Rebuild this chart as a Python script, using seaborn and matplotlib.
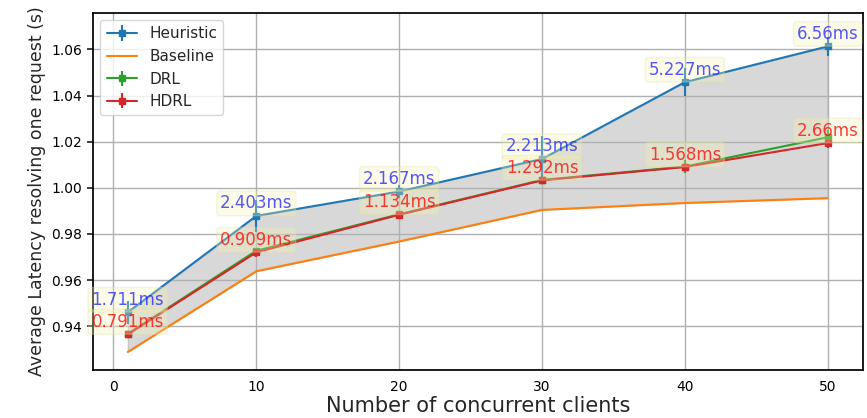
import numpy as np
import pandas as pd
import matplotlib
matplotlib.use("Agg")
import matplotlib.pyplot as plt
import seaborn as sns

# data
clients = [1, 10, 20, 30, 40, 50]
heuristic = [0.9460, 0.9878, 0.9984, 1.0125, 1.0458, 1.0613]
heuristic_err = [0.005, 0.007, 0.003, 0.010, 0.006, 0.004]
baseline = [0.9288, 0.9638, 0.9767, 0.9904, 0.9934, 0.9955]
drl = [0.9366, 0.9727, 0.9885, 1.0034, 1.0092, 1.0219]
drl_err = [0.001, 0.001, 0.001, 0.001, 0.003, 0.003]
hdrl = [0.9364, 0.9720, 0.9883, 1.0032, 1.0090, 1.0194]
hdrl_err = [0.001, 0.002, 0.001, 0.001, 0.001, 0.002]
heur_labels = ["1.711ms", "2.403ms", "2.167ms", "2.213ms", "5.227ms", "6.56ms"]
hdrl_labels = ["0.791ms", "0.909ms", "1.134ms", "1.292ms", "1.568ms", "2.66ms"]

sns.set_theme(style="whitegrid")
plt.rcParams['font.family'] = ['DejaVu Sans']
plt.rcParams['axes.edgecolor'] = 'black'
plt.rcParams['grid.color'] = '#b0b0b0'

pal = sns.color_palette("tab10")

fig, ax = plt.subplots(figsize=(8.67, 4.18), dpi=100)

ax.errorbar(clients, heuristic, yerr=heuristic_err, color=pal[0], marker='s',
            markersize=5, label='Heuristic')
sns.lineplot(x=clients, y=baseline, color=pal[1], label='Baseline', ax=ax)
ax.errorbar(clients, drl, yerr=drl_err, color=pal[2], marker='s',
            markersize=5, label='DRL')
ax.errorbar(clients, hdrl, yerr=hdrl_err, color=pal[3], marker='s',
            markersize=5, label='HDRL')
ax.fill_between(clients, baseline, heuristic, color='gray', alpha=0.3, zorder=0)

box = dict(boxstyle='round,pad=0.2', fc='#f5f5b0', ec='#e0e0a0', alpha=0.3)
for x, y, t in zip(clients, heuristic, heur_labels):
    ax.annotate(t, (x, y), xytext=(0, 9), textcoords='offset points', ha='center',
                va='center', color='#2020ff', alpha=0.75, fontsize=12, bbox=box,
                annotation_clip=False)
for x, y, t in zip(clients, hdrl, hdrl_labels):
    ax.annotate(t, (x, y), xytext=(0, 9), textcoords='offset points', ha='center',
                va='center', color='red', alpha=0.75, fontsize=12, bbox=box,
                annotation_clip=False)

ax.set_xticks([0, 10, 20, 30, 40, 50])
ax.set_yticks([0.94, 0.96, 0.98, 1.00, 1.02, 1.04, 1.06])
ax.set_yticklabels(['0.94', '0.96', '0.98', '1.00', '1.02', '1.04', '1.06'])
ax.set_ylim(0.921, 1.076)
ax.tick_params(axis='both', labelsize=10, labelcolor='black', length=4,
               left=True, bottom=False)
ax.set_xlabel('Number of concurrent clients', fontsize=15, labelpad=1)
ax.set_ylabel('Average Latency resolving one request (s)', fontsize=12.5)

handles, labels = ax.get_legend_handles_labels()
order = [labels.index(n) for n in ['Heuristic', 'Baseline', 'DRL', 'HDRL']]
ax.legend([handles[i] for i in order], [labels[i] for i in order],
          loc='upper left', fontsize=11, frameon=True)

plt.subplots_adjust(left=0.107, right=0.995, top=0.97, bottom=0.115)
plt.savefig('out.png', dpi=100)
